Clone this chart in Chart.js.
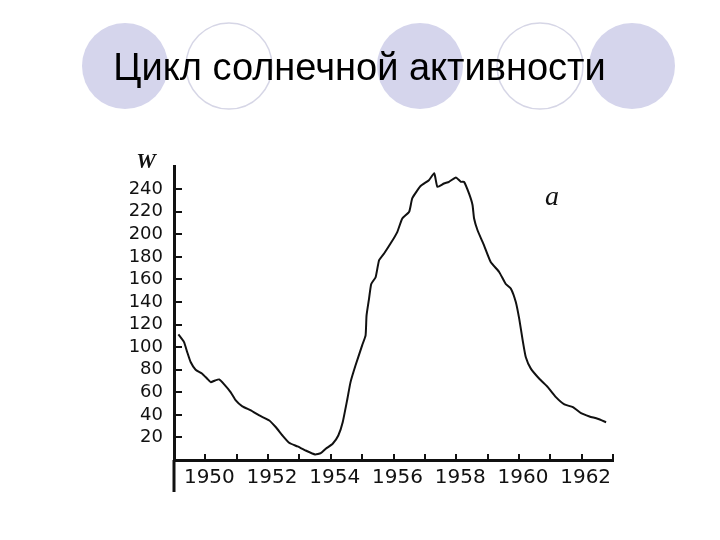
<!DOCTYPE html>
<html>
<head>
<meta charset="utf-8">
<script src="https://cdn.jsdelivr.net/npm/chart.js@4.4.1/dist/chart.umd.min.js"></script>
<style>
  html, body { margin: 0; padding: 0; background: #fff; }
  #wrap { width: 720px; height: 540px; }
</style>
</head>
<body>
<div id="wrap"><canvas id="sunChart" width="720" height="540"></canvas></div>
<script>
// Wolf number W
const years = [1949.14, 1949.32, 1949.42, 1949.53, 1949.69, 1949.9, 1950.06, 1950.17, 1950.31, 1950.44,
    1950.6, 1950.81, 1950.97, 1951.18, 1951.45, 1951.72, 1952.04, 1952.25, 1952.46, 1952.67,
    1952.94, 1953.2, 1953.5, 1953.68, 1953.84, 1954.06, 1954.24, 1954.38, 1954.53, 1954.63,
    1954.79, 1955.0, 1955.11, 1955.14, 1955.22, 1955.29, 1955.43, 1955.54, 1955.7, 1955.91,
    1956.12, 1956.28, 1956.5, 1956.6, 1956.87, 1957.13, 1957.3, 1957.4, 1957.61, 1957.77,
    1957.99, 1958.15, 1958.25, 1958.41, 1958.52, 1958.57, 1958.68, 1958.89, 1959.1, 1959.37,
    1959.58, 1959.74, 1959.9, 1960.01, 1960.12, 1960.22, 1960.38, 1960.65, 1960.92, 1961.18,
    1961.45, 1961.72, 1961.98, 1962.25, 1962.51, 1962.78];
const wolf = [111.4, 104.5, 95.7, 86.8, 80, 76.5, 72, 69, 70.5, 71.4,
    67, 60, 52.8, 47.5, 44, 39.5, 35, 29, 21.7, 15.3,
    12, 8.4, 4.9, 6, 10, 14.4, 21.7, 33.5, 54.3, 69,
    83.9, 101.6, 110.5, 128, 143, 156, 162, 177, 183, 192,
    202, 214, 220, 232, 243, 248, 254, 242, 245, 246.5,
    250.4, 246.5, 246.5, 236, 226, 214, 203.6, 190, 175.5, 166.6,
    156, 152, 140, 125, 106, 91, 81, 72, 64.6, 55.7,
    49.2, 46.9, 41.5, 38.6, 36.5, 33.5];

const xTickLabels = ['1950', '1952', '1954', '1956', '1958', '1960', '1962'];
const yTickLabels = ['20', '40', '60', '80', '100', '120', '140', '160', '180', '200', '220', '240'];

// decorative circles behind the title, plus inward ticks and the W / а marks
const slideDecor = {
    id: 'slideDecor',
    beforeDraw(chart) {
        const ctx = chart.ctx;
        ctx.save();
        ctx.fillStyle = '#fff';
        ctx.fillRect(0, 0, chart.width, chart.height);
        [[125, 66], [420, 66], [632, 66]].forEach(function (c) {
            ctx.beginPath();
            ctx.arc(c[0], c[1], 43, 0, Math.PI * 2);
            ctx.fillStyle = '#d5d5ec';
            ctx.fill();
        });
        [[229, 66], [540, 66]].forEach(function (c) {
            ctx.beginPath();
            ctx.arc(c[0], c[1], 43, 0, Math.PI * 2);
            ctx.fillStyle = '#fff';
            ctx.fill();
            ctx.lineWidth = 1.5;
            ctx.strokeStyle = '#d6d6e6';
            ctx.stroke();
        });
        ctx.restore();
    },
    afterDraw(chart) {
        const ctx = chart.ctx;
        const xs = chart.scales.x, ys = chart.scales.y;
        const area = chart.chartArea;
        ctx.save();
        ctx.strokeStyle = '#111';
        ctx.lineWidth = 2;
        yTickLabels.forEach(function (t) {
            const py = Math.round(ys.getPixelForValue(Number(t)));
            ctx.beginPath();
            ctx.moveTo(area.left, py);
            ctx.lineTo(area.left + 8, py);
            ctx.stroke();
        });
        for (let yr = 1950; yr <= 1963; yr++) {
            const px = Math.round(xs.getPixelForValue(yr));
            ctx.beginPath();
            ctx.moveTo(px, area.bottom);
            ctx.lineTo(px, area.bottom - 6);
            ctx.stroke();
        }
        // y axis runs on below the x axis
        ctx.lineWidth = 3;
        ctx.beginPath();
        ctx.moveTo(area.left, area.bottom);
        ctx.lineTo(area.left, 492);
        ctx.stroke();

        ctx.fillStyle = '#111';
        ctx.textAlign = 'center';
        ctx.textBaseline = 'alphabetic';
        ctx.font = 'italic bold 22px "Liberation Serif"';
        ctx.fillText('W', 146, 168);
        ctx.font = 'italic 28px "Liberation Serif"';
        ctx.fillText('а', 552, 205);
        ctx.restore();
    }
};

const ctx = document.getElementById('sunChart').getContext('2d');

new Chart(ctx, {
    type: 'line',
    data: {
        datasets: [{
            label: 'W',
            data: years.map(function (y, i) { return { x: y, y: wolf[i] }; }),
            borderColor: '#111',
            borderWidth: 2,
            pointRadius: 0,
            tension: 0.15,
            fill: false
        }]
    },
    options: {
        responsive: false,
        animation: false,
        layout: {
            padding: { top: 0, left: 106, right: 107, bottom: 40 }
        },
        scales: {
            x: {
                type: 'linear',
                min: 1949,
                max: 1963,
                afterFit: function (scale) { scale.height = 40; },
                grid: { display: false, drawTicks: false },
                border: { display: true, color: '#111', width: 3 },
                ticks: {
                    stepSize: 1,
                    autoSkip: false,
                    maxRotation: 0,
                    padding: 6,
                    labelOffset: 4,
                    color: '#111',
                    font: { family: 'DejaVu Sans', size: 20 },
                    callback: function (value) {
                        const s = String(value);
                        return xTickLabels.includes(s) ? s : '';
                    }
                }
            },
            y: {
                min: 0,
                max: 260,
                afterFit: function (scale) { scale.width = 68; },
                grid: { display: false, drawTicks: false },
                border: { display: true, color: '#111', width: 3 },
                ticks: {
                    stepSize: 20,
                    autoSkip: false,
                    padding: 11,
                    color: '#111',
                    font: { family: 'DejaVu Sans', size: 18 },
                    callback: function (value) {
                        const s = String(value);
                        return yTickLabels.includes(s) ? s : '';
                    }
                }
            }
        },
        plugins: {
            legend: { display: false },
            tooltip: { enabled: false },
            title: {
                display: true,
                text: 'Цикл солнечной активности',
                color: '#000',
                font: { family: 'Liberation Sans', size: 38, weight: 'normal', lineHeight: 1.2 },
                padding: { top: 47, bottom: 74 }
            }
        }
    },
    plugins: [slideDecor]
});
</script>
</body>
</html>
